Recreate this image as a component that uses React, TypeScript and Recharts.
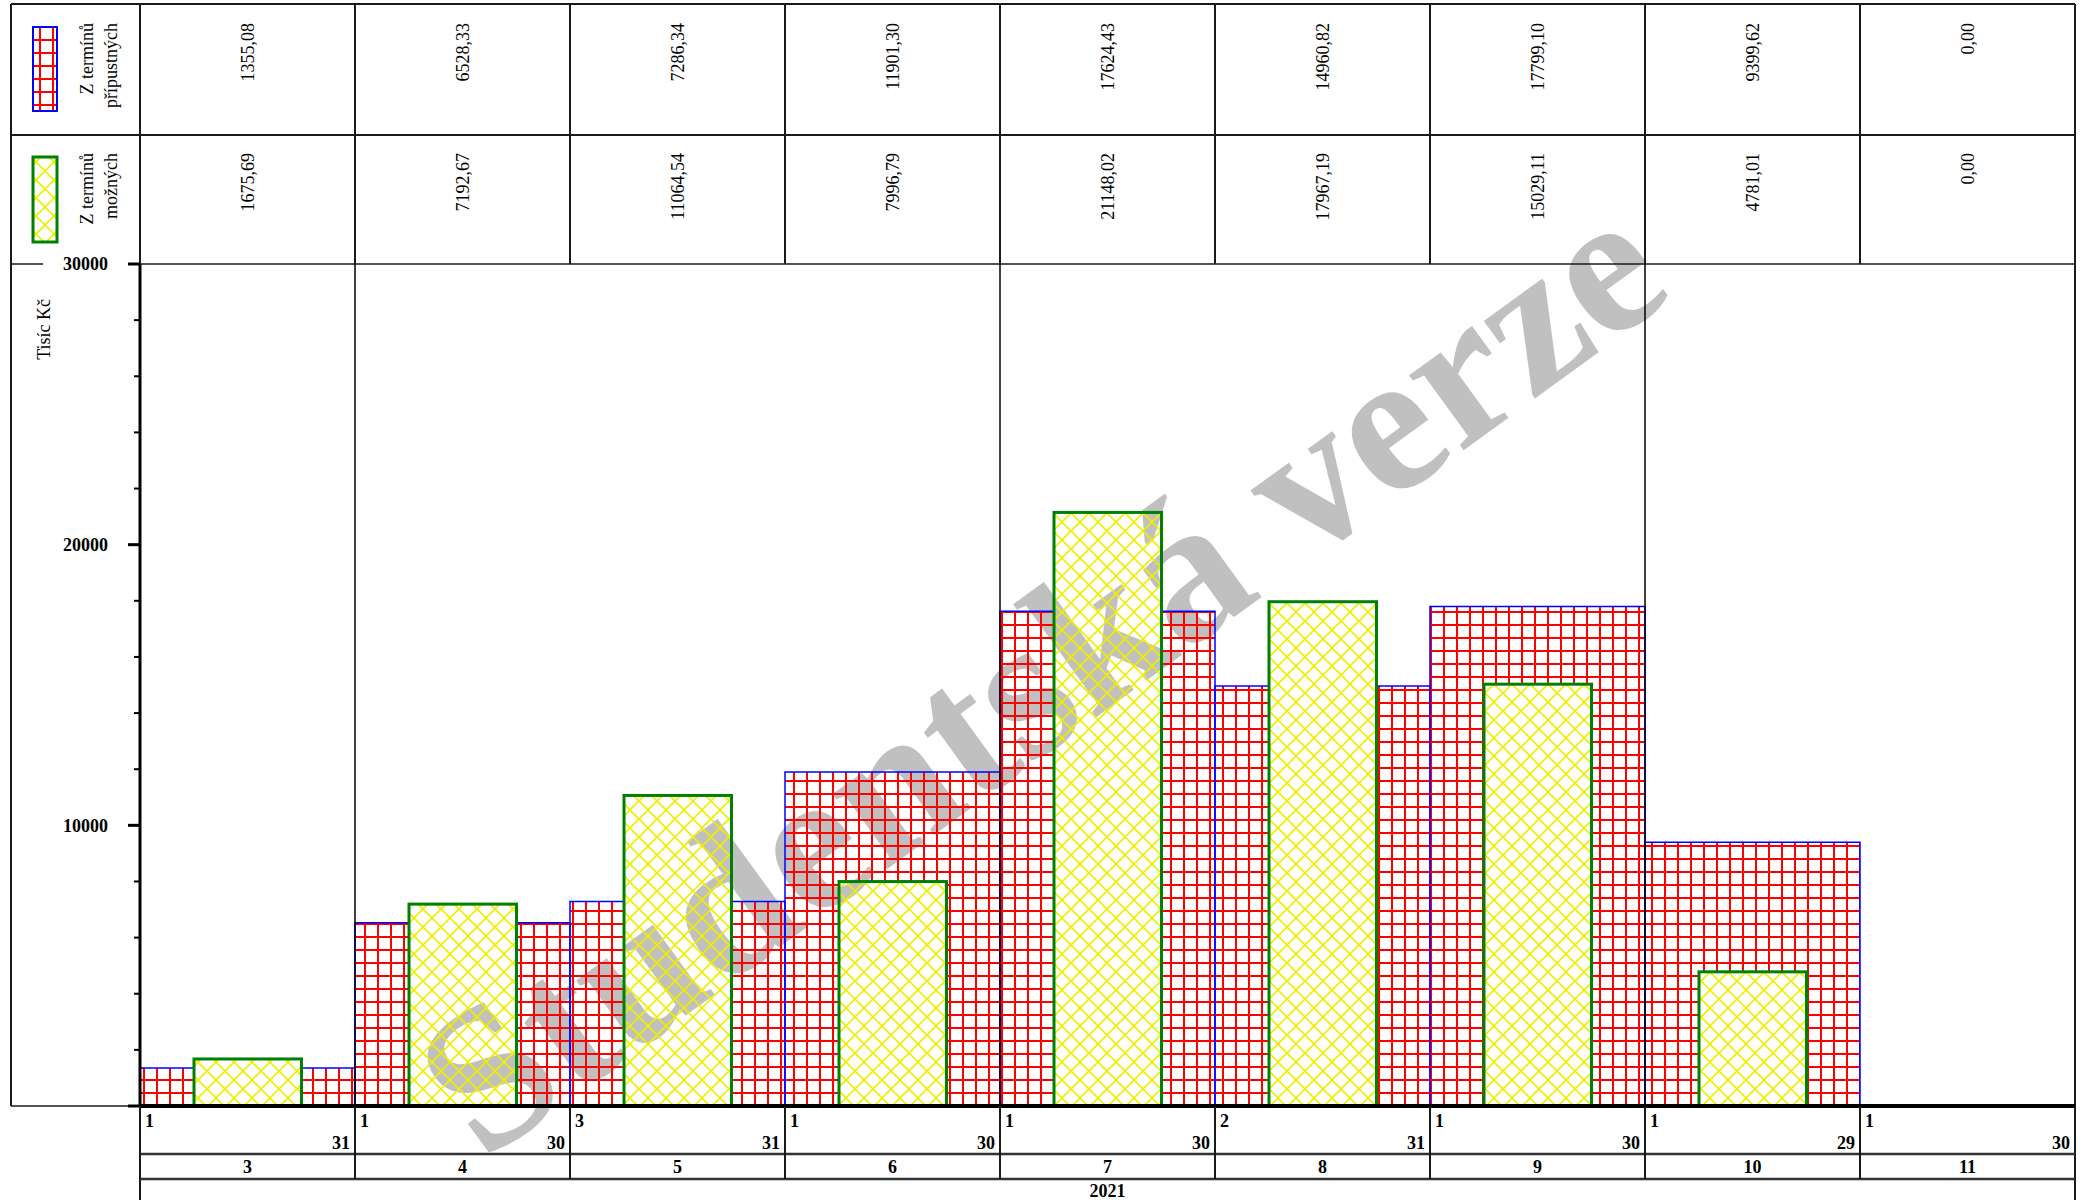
import React from 'react'
import { Bar, BarChart, XAxis, YAxis } from 'recharts'

const months = ['3', '4', '5', '6', '7', '8', '9', '10', '11']
const firstDays = ['1', '1', '3', '1', '1', '2', '1', '1', '1']
const lastDays = ['31', '30', '31', '30', '30', '31', '30', '29', '30']
const pripustnych = [1355.08, 6528.33, 7286.34, 11901.3, 17624.43, 14960.82, 17799.1, 9399.62, 0]
const moznych = [1675.69, 7192.67, 11064.54, 7996.79, 21148.02, 17967.19, 15029.11, 4781.01, 0]
const yearLabel = '2021'
const quarterStarts = ['4', '7', '10']
const yTicks = [0, 2000, 4000, 6000, 8000, 10000, 12000, 14000, 16000, 18000, 20000, 22000, 24000, 26000, 28000, 30000]
const yLabeled = [10000, 20000, 30000]
const pripustnychLabel = ['Z termínů', 'přípustných']
const moznychLabel = ['Z termínů', 'možných']
const yTitle = 'Tisíc Kč'
const watermark = 'Studentská verze'

const data = months.map((m, i) => ({ month: m, pripustnych: pripustnych[i], moznych: moznych[i] }))

// layout (px)
const W = 2083
const H = 1200
const LEFT = 11
const AXIS_X = 140
const RIGHT = 2075
const TOP = 4
const ROW1 = 135
const PLOT_TOP = 264
const PLOT_BOTTOM = 1106
const DAY_ROW = 1154
const MONTH_ROW = 1179
const BAND = (RIGHT - AXIS_X) / months.length

const SERIF = "'Liberation Serif', 'Times New Roman', serif"
const LINE = '#1a1a1a'

const fmt = (v: number) => v.toFixed(2).replace('.', ',')

function Watermark() {
  return (
    <text
      x={1040}
      y={674}
      textAnchor="middle"
      dominantBaseline="central"
      transform="rotate(-36 1040 674)"
      fontFamily={SERIF}
      fontWeight="bold"
      fontSize={202}
      fill="#c0c0c0"
    >
      {watermark}
    </text>
  )
}

function VText({ x, y, children }: { x: number; y: number; children: React.ReactNode }) {
  // rotated text reading bottom-to-top, its end at (x, y)
  return (
    <text
      x={x}
      y={y}
      dy="0.35em"
      textAnchor="end"
      transform={`rotate(-90 ${x} ${y})`}
      fontFamily={SERIF}
      fontSize={18}
      fill="#000"
    >
      {children}
    </text>
  )
}

function TopTick(props: any) {
  const { x, index } = props
  const left = x - BAND / 2
  return (
    <g>
      <line x1={left} y1={TOP} x2={left} y2={PLOT_TOP} stroke={LINE} strokeWidth={2} />
      <VText x={x} y={TOP + 19}>{fmt(pripustnych[index])}</VText>
      <VText x={x} y={ROW1 + 18}>{fmt(moznych[index])}</VText>
    </g>
  )
}

function BottomTick(props: any) {
  const { x, index, payload } = props
  const left = x - BAND / 2
  const bold = { fontFamily: SERIF, fontSize: 18, fontWeight: 'bold' as const, fill: '#000' }
  return (
    <g>
      <line x1={left} y1={PLOT_BOTTOM} x2={left} y2={MONTH_ROW} stroke={LINE} strokeWidth={2} />
      {quarterStarts.includes(payload.value) && (
        <line x1={left} y1={PLOT_TOP} x2={left} y2={PLOT_BOTTOM} stroke="#000" strokeWidth={1.5} />
      )}
      <text x={left + 5} y={1121} dy="0.35em" {...bold}>{firstDays[index]}</text>
      <text x={left + BAND - 5} y={1143} dy="0.35em" textAnchor="end" {...bold}>{lastDays[index]}</text>
      <text x={x} y={1167} dy="0.35em" textAnchor="middle" {...bold}>{payload.value}</text>
    </g>
  )
}

function YTick(props: any) {
  const { y, payload } = props
  const major = payload.value % 10000 === 0
  return (
    <g>
      <line x1={AXIS_X - (major ? 12 : 6)} y1={y} x2={AXIS_X} y2={y} stroke="#000" strokeWidth={major ? 3 : 2} />
      {yLabeled.includes(payload.value) && (
        <text x={108} y={y} dy="0.35em" textAnchor="end" fontFamily={SERIF} fontSize={18} fontWeight="bold" fill="#000">
          {payload.value}
        </text>
      )}
    </g>
  )
}

// green bar hides the red grid beneath it, but keeps the watermark visible
function HatchBar(props: any) {
  const { x, y, width, height, index } = props
  if (!height || height <= 0) return null
  const clipId = `hatchClip${index}`
  return (
    <g>
      <clipPath id={clipId}>
        <rect x={x} y={y} width={width} height={height} />
      </clipPath>
      <rect x={x} y={y} width={width} height={height} fill="#fff" />
      <g clipPath={`url(#${clipId})`}>
        <Watermark />
      </g>
      <rect x={x} y={y} width={width} height={height} fill="url(#yellowHatch)" stroke="#008000" strokeWidth={3} />
    </g>
  )
}

export default function App() {
  return (
    <div style={{ position: 'absolute', left: 0, top: 0, width: W, height: H, background: '#fff' }}>
      <svg width={W} height={H} style={{ position: 'absolute', left: 0, top: 0 }}>
        <Watermark />
      </svg>
      <div style={{ position: 'absolute', left: 0, top: 0 }}>
        <BarChart
          width={W}
          height={H}
          data={data}
          margin={{ top: TOP, right: W - RIGHT, bottom: 0, left: 0 }}
          barCategoryGap={0}
        >
          <defs>
            <pattern id="redGrid" patternUnits="userSpaceOnUse" width={13} height={13}>
              <path d="M0 1 H13 M1 0 V13" stroke="#ff0000" strokeWidth={2} />
            </pattern>
            <pattern id="yellowHatch" patternUnits="userSpaceOnUse" width={18} height={18}>
              <path d="M-2 -2 L20 20 M20 -2 L-2 20" stroke="#eeee00" strokeWidth={1.6} />
            </pattern>
          </defs>
          <YAxis
            type="number"
            domain={[0, 30000]}
            ticks={yTicks}
            interval={0}
            width={AXIS_X}
            axisLine={{ stroke: '#000', strokeWidth: 3 }}
            tickLine={false}
            tick={(p: any) => <YTick {...p} />}
          />
          <XAxis
            xAxisId="bottom"
            dataKey="month"
            height={H - PLOT_BOTTOM}
            interval={0}
            axisLine={{ stroke: '#000', strokeWidth: 4 }}
            tickLine={false}
            tick={(p: any) => <BottomTick {...p} />}
          />
          <XAxis
            xAxisId="top"
            orientation="top"
            dataKey="month"
            height={PLOT_TOP - TOP}
            interval={0}
            axisLine={false}
            tickLine={false}
            tick={(p: any) => <TopTick {...p} />}
          />
          <Bar
            dataKey="pripustnych"
            xAxisId="bottom"
            fill="url(#redGrid)"
            stroke="#0000ff"
            strokeWidth={1.5}
            isAnimationActive={false}
          />
          <Bar
            dataKey="moznych"
            xAxisId="top"
            barSize={BAND / 2}
            shape={(p: any) => <HatchBar {...p} />}
            isAnimationActive={false}
          />
          <g>
            {/* table frame */}
            <line x1={LEFT} y1={TOP} x2={RIGHT} y2={TOP} stroke={LINE} strokeWidth={2} />
            <line x1={LEFT} y1={ROW1} x2={RIGHT} y2={ROW1} stroke={LINE} strokeWidth={2} />
            <line x1={LEFT} y1={PLOT_TOP} x2={43} y2={PLOT_TOP} stroke={LINE} strokeWidth={1.5} />
            <line x1={AXIS_X} y1={PLOT_TOP} x2={RIGHT} y2={PLOT_TOP} stroke={LINE} strokeWidth={1.5} />
            <line x1={LEFT} y1={PLOT_BOTTOM} x2={AXIS_X} y2={PLOT_BOTTOM} stroke={LINE} strokeWidth={1.5} />
            <line x1={LEFT} y1={TOP} x2={LEFT} y2={PLOT_BOTTOM} stroke={LINE} strokeWidth={2} />
            <line x1={AXIS_X} y1={TOP} x2={AXIS_X} y2={PLOT_TOP} stroke={LINE} strokeWidth={2} />
            <line x1={AXIS_X} y1={PLOT_BOTTOM} x2={AXIS_X} y2={H} stroke={LINE} strokeWidth={2} />
            <line x1={RIGHT} y1={TOP} x2={RIGHT} y2={H} stroke={LINE} strokeWidth={2} />
            <line x1={AXIS_X} y1={DAY_ROW} x2={RIGHT} y2={DAY_ROW} stroke="#333" strokeWidth={2.5} />
            <line x1={AXIS_X} y1={MONTH_ROW} x2={RIGHT} y2={MONTH_ROW} stroke="#333" strokeWidth={2.5} />
            {/* legend */}
            <rect x={33} y={27} width={24} height={84} fill="url(#redGrid)" stroke="#0000ff" strokeWidth={2} />
            <VText x={87} y={TOP + 19}>{pripustnychLabel[0]}</VText>
            <VText x={111} y={TOP + 19}>{pripustnychLabel[1]}</VText>
            <rect x={33} y={157} width={24} height={85} fill="url(#yellowHatch)" stroke="#008000" strokeWidth={3} />
            <VText x={87} y={ROW1 + 18}>{moznychLabel[0]}</VText>
            <VText x={111} y={ROW1 + 18}>{moznychLabel[1]}</VText>
            <VText x={44} y={299}>{yTitle}</VText>
            <text
              x={(AXIS_X + RIGHT) / 2}
              y={1191}
              dy="0.35em"
              textAnchor="middle"
              fontFamily={SERIF}
              fontSize={18}
              fontWeight="bold"
              fill="#000"
            >
              {yearLabel}
            </text>
          </g>
        </BarChart>
      </div>
    </div>
  )
}
